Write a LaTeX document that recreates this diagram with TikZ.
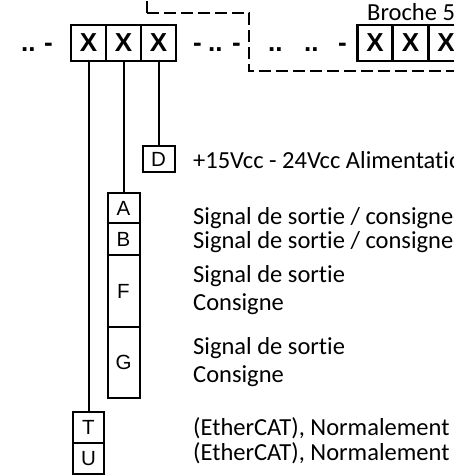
\documentclass[tikz,border=0pt]{standalone}
\usepackage{fontspec}
\setmainfont{Carlito}[Ligatures={NoCommon,NoRare,NoContextual}]
\newfontfamily\cellfont{Liberation Sans}

\begin{document}
\begin{tikzpicture}[x=1pt,y=-1pt,font=\fontsize{24.5}{28}\selectfont,
 cell/.style={draw,line width=2pt,fill=white,inner sep=0pt,outer sep=0pt,
  font=\cellfont\fontsize{20.5}{22}\selectfont},
 pin/.style={cell,line width=2.2pt,minimum width=35pt,minimum height=36pt,
  font=\cellfont\bfseries\fontsize{26}{28}\selectfont},
 gap/.style={anchor=base west,inner sep=0pt,font=\cellfont\bfseries\fontsize{26}{28}\selectfont},
 txt/.style={anchor=base west,inner sep=0pt},
 wire/.style={line width=2pt},
 frame/.style={line width=1.5pt,dash pattern=on 12pt off 5pt}]
\useasboundingbox (0,0) rectangle (454,475);
\clip (0,0) rectangle (454,475);
\coordinate (c0) at (147,13);
\draw[frame] (c0)--(147,-2);
\draw[frame] (c0)--(249,13)--(249,71)--(470,71);
\foreach \i/\x in {1/88.5,2/123.5,3/158.5,4/375,5/410.5,6/446}
 \node[pin] (p\i) at (\x,43) {X};
\foreach \x/\s [count=\k] in {21/{..},44/-,193/-,208/{..},232/-,268/{..},304/{..},338/-}
 \node[gap] (s\k) at (\x,51) {\s};
\node[cell,minimum width=32pt,minimum height=26pt] (d) at (158.5,159) {D};
\node[cell,minimum width=32pt,minimum height=30pt] (a) at (123.5,208) {A};
\node[cell,minimum width=32pt,minimum height=32pt] (b) at (123.5,239) {B};
\node[cell,minimum width=32pt,minimum height=72pt] (f) at (123.5,291) {F};
\node[cell,minimum width=32pt,minimum height=71pt] (g) at (123.5,362.5) {G};
\node[cell,minimum width=31pt,minimum height=31pt] (t) at (88.5,427.5) {T};
\node[cell,minimum width=31pt,minimum height=31pt] (u) at (88.5,458.5) {U};
\draw[wire] (p1) -- (t);
\draw[wire] (p2) -- (a);
\draw[wire] (p3) -- (d);
\node[txt] (br) at (367,20) {Broche 5};
\node[txt] (al) at (193,168) {+15Vcc - 24Vcc Alimentation};
\node[txt] (sa) at (193,224) {Signal de sortie / consigne};
\node[txt] (sb) at (193,248) {Signal de sortie / consigne};
\node[txt] (sf) at (193,282) {Signal de sortie};
\node[txt] (cf) at (193,310) {Consigne};
\node[txt] (sg) at (193,354) {Signal de sortie};
\node[txt] (cg) at (193,382) {Consigne};
\node[txt] (et) at (193,435) {(EtherCAT), Normalement};
\node[txt] (eu) at (193,460) {(EtherCAT), Normalement};
\end{tikzpicture}
\end{document}
